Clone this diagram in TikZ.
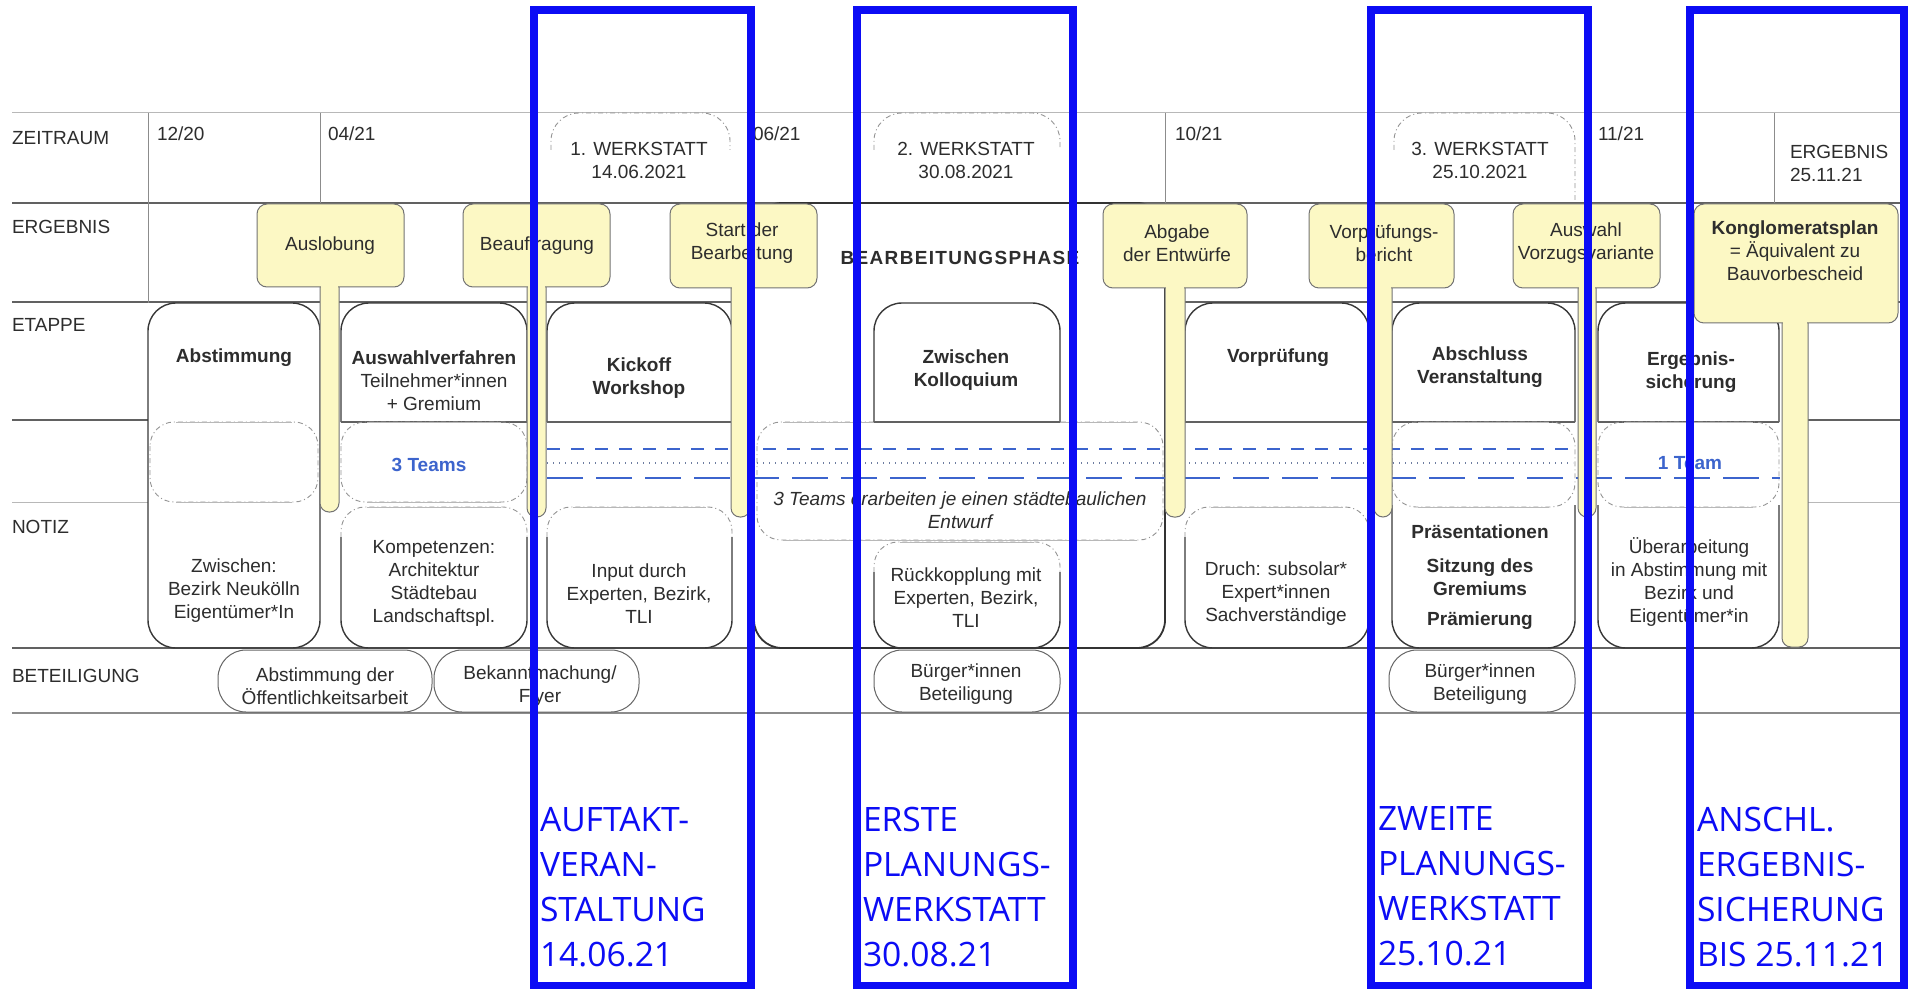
\documentclass[tikz,border=0pt]{standalone}
\usepackage{fontspec}
\setmainfont{Liberation Sans}
\newfontfamily\annofont{Open Sans}
\definecolor{signy}{RGB}{252,248,196}
\definecolor{annoblue}{RGB}{12,12,245}
\definecolor{teamblue}{RGB}{60,100,205}
\definecolor{dotblue}{RGB}{110,125,160}
\definecolor{txt}{RGB}{45,45,45}
\newcommand\upperpart[2]{%
  \draw[boxline] (#1,422) [rounded corners=14pt] -- (#1,303) -- (#2,303) -- (#2,422);
  \draw[rowline] (#1,422) -- (#2,422);}
\newcommand\notepart[3]{%
  \draw[boxline] (#1,#3+30) [rounded corners=14pt] -- (#1,648) -- (#2,648) -- (#2,#3+30);
  \draw[dashcorner] (#1,#3+30) [rounded corners=12pt] -- (#1,#3) -- (#2,#3) -- (#2,#3+30);
  \draw[lightrow] (#1+26,#3) -- (#2-26,#3);}
\newcommand\bandpart[4]{%
  \draw[dashcorner, rounded corners=12pt] (#1,#3) rectangle (#2,#4);
  \draw[lightrow] (#1+26,#3) -- (#2-26,#3);
  \draw[lightrow] (#1+26,#4) -- (#2-26,#4);}
\newcommand\signpost[6]{%
  \filldraw[sign] (#3,#5-4) [rounded corners=4.5pt] -- (#3,#6) -- (#4,#6) -- (#4,#5-4);
  \filldraw[sign, rounded corners=5pt] (#1,204) rectangle (#2,#5);
  \fill[signy] (#3+0.8,#5-3) rectangle (#4-0.8,#5+3);}
\begin{document}
\begin{tikzpicture}[x=0.5pt,y=-0.5pt,
  every node/.style={inner sep=0pt, outer sep=0pt, text=txt},
  lbl/.style={font=\fontsize{9.5}{11.5}\selectfont, align=center},
  hdr/.style={font=\fontsize{9.5}{11.5}\selectfont, anchor=west},
  bld/.style={font=\fontsize{9.5}{11.5}\selectfont\bfseries, align=center},
  teamtxt/.style={font=\fontsize{9.5}{11.5}\selectfont\bfseries, text=teamblue},
  rowline/.style={draw=black!62, line width=0.6pt},
  divline/.style={draw=black!45, line width=0.5pt},
  lightrow/.style={draw=black!28, line width=0.5pt},
  boxline/.style={draw=black!78, line width=0.7pt},
  dashcorner/.style={draw=black!42, line width=0.45pt, dash pattern=on 2.5pt off 1.5pt on 0.5pt off 1.5pt},
  betbox/.style={draw=black!60, line width=0.5pt, rounded corners=14pt},
  sign/.style={fill=signy, draw=black!55, line width=0.5pt},
  anno/.style={draw=annoblue, line width=4pt},
  annotxt/.style={anchor=north west, align=left, text=annoblue, font=\annofont\fontsize{16.8}{22.5}\selectfont},
]
\useasboundingbox (0,0) rectangle (1910,989);
\fill[white] (0,0) rectangle (1910,989);

% ---- table grid
\draw[lightrow] (12,113) -- (1900,113);
\draw[rowline] (12,203) -- (1900,203);
\draw[rowline] (12,302) -- (755,302);
\draw[rowline] (1165,302) -- (1900,302);
\draw[rowline] (12,420) -- (148,420);
\draw[rowline] (1808,420) -- (1900,420);
\draw[lightrow] (12,502) -- (148,502);
\draw[lightrow] (1808,502) -- (1900,502);
\draw[rowline] (12,648) -- (1900,648);
\draw[draw=black!45, line width=0.6pt] (12,713) -- (1900,713);
\draw[divline] (148,113) -- (148,303);
\draw[divline] (320,113) -- (320,203);
\draw[divline] (1165,113) -- (1165,203);
\draw[divline] (1774,113) -- (1774,203);

% ---- workshop header boxes
\draw[dashcorner] (551,150) [rounded corners=14pt] -- (551,113) -- (730,113) -- (730,150);
\draw[dashcorner] (874,150) [rounded corners=14pt] -- (874,113) -- (1060,113) -- (1060,150);
\draw[dashcorner] (1394,150) [rounded corners=14pt] -- (1394,113) -- (1575,113) -- (1575,200);

% ---- Bearbeitungsphase frame
\draw[draw=black!80, line width=0.9pt, rounded corners=14pt] (754,203) rectangle (1165,648);

% ---- column boxes
\draw[boxline, rounded corners=14pt] (148,303) rectangle (320,648);
\bandpart{150}{318}{422}{502}
\upperpart{341}{527}
\bandpart{341}{527}{422}{502}
\notepart{341}{527}{507}
\upperpart{547}{732}
\notepart{547}{732}{507}
\bandpart{757}{1163}{422}{540}
\upperpart{874}{1060}
\notepart{874}{1060}{542}
\upperpart{1185}{1369}
\notepart{1185}{1369}{507}
\upperpart{1392}{1575}
\bandpart{1392}{1575}{422}{507}
\draw[boxline] (1392,505) [rounded corners=14pt] -- (1392,648) -- (1575,648) -- (1575,505);
\upperpart{1598}{1779}
\bandpart{1598}{1779}{422}{507}
\draw[boxline] (1598,505) [rounded corners=14pt] -- (1598,648) -- (1779,648) -- (1779,505);

% ---- participation boxes
\draw[betbox] (218,650) rectangle (432,712);
\draw[betbox] (434,650) rectangle (639,712);
\draw[betbox] (874,650) rectangle (1060,712);
\draw[betbox] (1389,650) rectangle (1575,712);

% ---- team lines
\draw[teamblue, line width=0.75pt, dash pattern=on 6.5pt off 5.5pt] (547,449) -- (1573,449);
\draw[dotblue, line width=0.65pt, dash pattern=on 0.7pt off 2.3pt] (547,463) -- (1573,463);
\draw[teamblue, line width=0.75pt, dash pattern=on 18pt off 6.5pt] (547,478) -- (1780,478);

% ---- row labels and header
\node[hdr] (lzr) at (12,138) {ZEITRAUM};
\node[hdr] (ler) at (12,227) {ERGEBNIS};
\node[hdr] (let) at (12,325) {ETAPPE};
\node[hdr] (lno) at (12,527) {NOTIZ};
\node[hdr] (lbe) at (12,676) {BETEILIGUNG};
\node[hdr] (m1) at (157,134) {12/20};
\node[hdr] (m2) at (328,134) {04/21};
\node[hdr] (m3) at (753,134) {06/21};
\node[hdr] (m4) at (1175,134) {10/21};
\node[hdr] (m5) at (1598,134) {11/21};
\node[lbl] (w1) at (639,160) {1. WERKSTATT\\14.06.2021};
\node[lbl] (w2) at (966,160) {2. WERKSTATT\\30.08.2021};
\node[lbl] (w3) at (1480,160) {3. WERKSTATT\\25.10.2021};
\node[lbl, anchor=west, align=left] (erg) at (1790,163) {ERGEBNIS\\25.11.21};
\node[font=\fontsize{9.5}{11.5}\selectfont\bfseries\addfontfeature{LetterSpace=7}] (bp) at (960,258) {BEARBEITUNGSPHASE};

% ---- column texts
\node[bld] (ta1) at (234,358) {Abstimmung};
\node[lbl] (ta2) at (234,591) {Zwischen:\\Bezirk Neukölln\\Eigentümer*In};
\node[lbl] (tb1) at (434,381) {\textbf{Auswahlverfahren}\\Teilnehmer*innen\\+ Gremium};
\node[teamtxt] (tb2) at (429,465) {3 Teams};
\node[lbl] (tb3) at (434,583) {Kompetenzen:\\Architektur\\Städtebau\\Landschaftspl.};
\node[bld] (tc1) at (639,378) {Kickoff\\Workshop};
\node[lbl] (tc2) at (639,594) {Input durch\\Experten, Bezirk,\\TLI};
\node[lbl, font=\fontsize{9.5}{11.5}\selectfont\itshape] (td1) at (960,510) {3 Teams erarbeiten je einen städtebaulichen\\Entwurf};
\node[bld] (te1) at (966,370) {Zwischen\\Kolloquium};
\node[lbl] (te2) at (966,598) {Rückkopplung mit\\Experten, Bezirk,\\TLI};
\node[bld] (tf1) at (1278,358) {Vorprüfung};
\node[lbl] (tf2) at (1276,594) {Druch: subsolar*\\Expert*innen\\Sachverständige};
\node[bld] (tg1) at (1480,367) {Abschluss\\Veranstaltung};
\node[bld] (tg2) at (1480,532) {Präsentationen};
\node[bld] (tg3) at (1480,577) {Sitzung des\\Gremiums};
\node[bld] (tg4) at (1480,621) {Prämierung};
\node[bld] (th1) at (1691,372) {Ergebnis-\\sicherung};
\node[teamtxt] (th2) at (1690,463) {1 Team};
\node[lbl] (th3) at (1689,582) {Überarbeitung\\in Abstimmung mit\\Bezirk und\\Eigentümer*in};
\node[lbl] (p1) at (325,686) {Abstimmung der\\Öffentlichkeitsarbeit};
\node[lbl] (p2) at (540,686) {Bekanntmachung/\\Flyer};
\node[lbl] (p3) at (966,684) {Bürger*innen\\Beteiligung};
\node[lbl] (p4) at (1480,684) {Bürger*innen\\Beteiligung};

% ---- result signposts
\signpost{257}{404}{320}{339}{287}{512}
\signpost{463}{610}{527}{546}{287}{517}
\signpost{670}{817}{731}{750}{288}{517}
\signpost{1103}{1247}{1165}{1185}{288}{517}
\signpost{1309}{1454}{1374}{1392}{288}{517}
\signpost{1513}{1660}{1578}{1596}{288}{517}
\signpost{1694}{1898}{1782}{1808}{323}{647}
\node[lbl] (s1) at (330,246) {Auslobung};
\node[lbl] (s2) at (537,246) {Beauftragung};
\node[lbl] (s3) at (742,243) {Start der\\Bearbeitung};
\node[lbl] (s4) at (1177,243) {Abgabe\\der Entwürfe};
\node[lbl] (s5) at (1384,243) {Vorprüfungs-\\bericht};
\node[lbl] (s6) at (1586,243) {Auswahl\\Vorzugsvariante};
\node[lbl] (s7) at (1795,251) {\textbf{Konglomeratsplan}\\= Äquivalent zu\\Bauvorbescheid};

% ---- blue annotations
\draw[anno] (534,10) rectangle (751,986);
\draw[anno] (857,10) rectangle (1073,986);
\draw[anno] (1371,10) rectangle (1588,986);
\draw[anno] (1690,10) rectangle (1904,986);
\node[annotxt] (a1) at (540,807) {AUFTAKT-\\VERAN-\\STALTUNG\\14.06.21};
\node[annotxt] (a2) at (863,807) {ERSTE\\PLANUNGS-\\WERKSTATT\\30.08.21};
\node[annotxt] (a3) at (1378,807) {ZWEITE\\PLANUNGS-\\WERKSTATT\\25.10.21};
\node[annotxt] (a4) at (1697,807) {ANSCHL.\\ERGEBNIS-\\SICHERUNG\\BIS 25.11.21};
\end{tikzpicture}
\end{document}
